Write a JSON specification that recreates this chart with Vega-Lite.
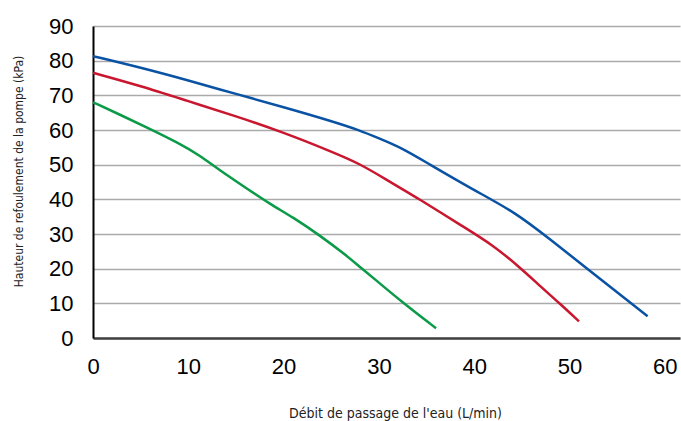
{
  "$schema": "https://vega.github.io/schema/vega-lite/v6.json",
  "width": 587,
  "height": 312,
  "autosize": {"type": "none"},
  "padding": {"left": 93, "top": 26, "right": 1, "bottom": 83},
  "background": "white",
  "config": {"view": {"stroke": null}},
  "data": {
    "values": [
      {"s": "A", "q": 0, "p": 81.3}, {"s": "A", "q": 5, "p": 78.0}, {"s": "A", "q": 10, "p": 74.3},
      {"s": "A", "q": 15, "p": 70.4}, {"s": "A", "q": 20, "p": 66.6}, {"s": "A", "q": 25, "p": 62.6},
      {"s": "A", "q": 28, "p": 59.9}, {"s": "A", "q": 30, "p": 57.6}, {"s": "A", "q": 32.5, "p": 54.7},
      {"s": "A", "q": 35, "p": 50.6}, {"s": "A", "q": 40, "p": 42.6}, {"s": "A", "q": 44.3, "p": 36.3},
      {"s": "A", "q": 48, "p": 28.4}, {"s": "A", "q": 52, "p": 19.7}, {"s": "A", "q": 56, "p": 11.0},
      {"s": "A", "q": 58.2, "p": 6.3},
      {"s": "B", "q": 0, "p": 76.5}, {"s": "B", "q": 5, "p": 72.7}, {"s": "B", "q": 10, "p": 68.3},
      {"s": "B", "q": 15, "p": 64.0}, {"s": "B", "q": 20, "p": 59.3}, {"s": "B", "q": 25, "p": 53.8},
      {"s": "B", "q": 28, "p": 50.3}, {"s": "B", "q": 31, "p": 45.3}, {"s": "B", "q": 34.3, "p": 40.0},
      {"s": "B", "q": 38.5, "p": 32.7}, {"s": "B", "q": 42, "p": 26.8}, {"s": "B", "q": 44.8, "p": 20.3},
      {"s": "B", "q": 47, "p": 14.8}, {"s": "B", "q": 49, "p": 9.9}, {"s": "B", "q": 51, "p": 4.8},
      {"s": "C", "q": 0, "p": 68.0}, {"s": "C", "q": 3, "p": 64.2}, {"s": "C", "q": 6, "p": 60.3},
      {"s": "C", "q": 9, "p": 56.2}, {"s": "C", "q": 11, "p": 53.0}, {"s": "C", "q": 13.3, "p": 48.4},
      {"s": "C", "q": 16, "p": 43.4}, {"s": "C", "q": 18.6, "p": 38.6}, {"s": "C", "q": 21, "p": 34.8},
      {"s": "C", "q": 23.8, "p": 29.6}, {"s": "C", "q": 26.5, "p": 24.0}, {"s": "C", "q": 28, "p": 20.5},
      {"s": "C", "q": 30, "p": 16.0}, {"s": "C", "q": 32.2, "p": 10.9}, {"s": "C", "q": 36, "p": 2.8}
    ]
  },
  "mark": {"type": "line", "interpolate": "basis", "strokeWidth": 2.5, "clip": false},
  "encoding": {
    "x": {
      "field": "q", "type": "quantitative",
      "scale": {"domain": [0, 61.6], "nice": false, "zero": true},
      "axis": {
        "title": "Débit de passage de l'eau (L/min)",
        "values": [0, 10, 20, 30, 40, 50, 60],
        "grid": false, "ticks": false,
        "domainColor": "#404040", "domainWidth": 2.5,
        "labelFont": "Liberation Sans", "labelFontSize": 22, "labelColor": "#000000",
        "labelPadding": 18, "labelFlush": false,
        "titleFont": "DejaVu Sans Condensed, Roboto, sans-serif", "titleFontSize": 14, "titleFontWeight": "normal",
        "titleColor": "#222222", "titleX": 302, "titleY": 79, "titleBaseline": "alphabetic", "titleAnchor": "middle"
      }
    },
    "y": {
      "field": "p", "type": "quantitative",
      "scale": {"domain": [0, 90], "nice": false},
      "axis": {
        "title": "Hauteur de refoulement de la pompe (kPa)",
        "values": [0, 10, 20, 30, 40, 50, 60, 70, 80, 90],
        "grid": true, "gridColor": "#aaaaaa", "gridWidth": 1.5,
        "ticks": false,
        "domainColor": "#000000", "domainWidth": 2,
        "labelFont": "Liberation Sans", "labelFontSize": 22, "labelColor": "#000000",
        "labelPadding": 20, "labelFlush": false,
        "titleFont": "DejaVu Sans Condensed, Roboto, sans-serif", "titleFontSize": 12, "titleFontWeight": "normal",
        "titleColor": "#222222", "titleX": -74.5, "titleY": 145, "titleBaseline": "middle", "titleAngle": -90, "titleAnchor": "middle"
      }
    },
    "color": {
      "field": "s", "type": "nominal",
      "scale": {"domain": ["A", "B", "C"], "range": ["#0a52a3", "#c8172f", "#0a9a48"]},
      "legend": null
    }
  }
}
